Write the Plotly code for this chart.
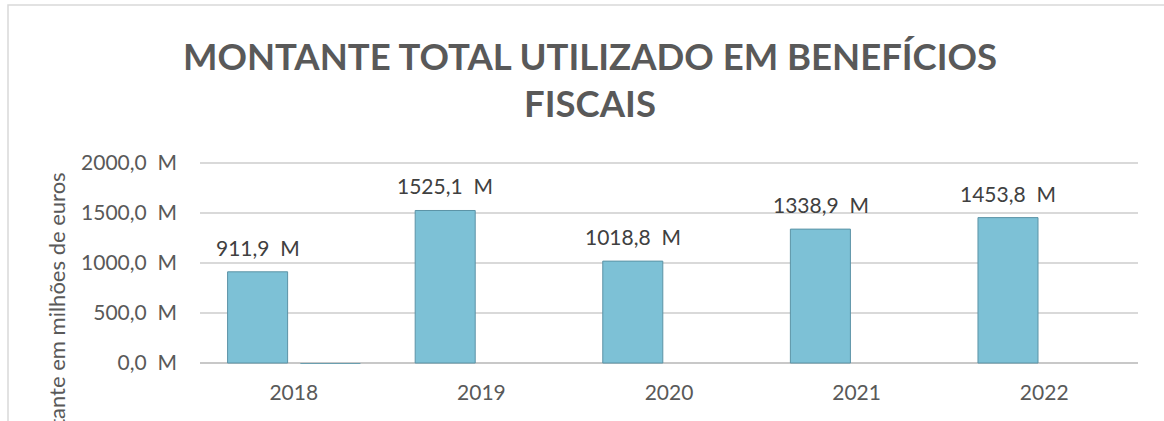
import plotly.graph_objects as go

# ---- data ----
years = ["2018", "2019", "2020", "2021", "2022"]
montante = [911.9, 1525.1, 1018.8, 1338.9, 1453.8]
serie2 = [-10, 0, 0, 0, 0]
value_labels = ["911,9\u00a0 M", "1525,1\u00a0 M", "1018,8\u00a0 M", "1338,9\u00a0 M", "1453,8\u00a0 M"]
y_tickvals = [0, 500, 1000, 1500, 2000]
y_ticktext = ["0,0\u00a0 M", "500,0\u00a0 M", "1000,0\u00a0 M", "1500,0\u00a0 M", "2000,0\u00a0 M"]

W, H = 1164, 421
L, R, T, B = 200, 26, 158, 57
pw, ph = W - L - R, H - T - B

FONT = "Lato"

fig = go.Figure()
fig.add_trace(go.Bar(
    x=years, y=montante, width=0.32, offset=-0.353,
    marker=dict(color="#7DC1D6", line=dict(color="#5C93A6", width=1)),
    hoverinfo="skip", showlegend=False,
))
fig.add_trace(go.Bar(
    x=years, y=serie2, width=0.32, offset=0.035,
    marker=dict(color="#6A9FB0", line=dict(width=0)),
    hoverinfo="skip", showlegend=False,
))

# data labels (category index positions on the category axis)
for i, (v, lab) in enumerate(zip(montante, value_labels)):
    fig.add_annotation(x=i, y=v, xref="x", yref="y", text=lab, showarrow=False,
                       yanchor="bottom", xanchor="center", xshift=-36, yshift=10,
                       font=dict(family=FONT, size=21, color="#404040"))

# y-axis title (clipped at bottom as in original)
fig.add_annotation(x=(56 - L) / pw, y=(H - B - 172 + 1) / ph, xref="paper", yref="paper",
                   text="Montante em milhões de euros", textangle=-90, showarrow=False,
                   xanchor="center", yanchor="top",
                   font=dict(family=FONT, size=22, color="#595959"))

# chart area border
fig.add_shape(type="rect", xref="paper", yref="paper",
              x0=(8 - L) / pw, x1=(1175 - L) / pw,
              y0=(H - B - 440) / ph, y1=(H - B - 5) / ph,
              line=dict(color="#D9D9D9", width=1.5), fillcolor="rgba(0,0,0,0)", layer="below")

fig.update_layout(
    width=W, height=H,
    margin=dict(l=L, r=R, t=T, b=B, pad=0),
    paper_bgcolor="white", plot_bgcolor="white",
    barmode="overlay",
    title=dict(text="MONTANTE TOTAL UTILIZADO EM BENEFÍCIOS<br>FISCAIS",
               x=590 / W, xanchor="center", xref="container",
               y=1 - 70 / H, yanchor="middle", yref="container",
               font=dict(family=FONT, size=36.5, color="#595959", weight="bold")),
    xaxis=dict(type="category", range=[-0.5, 4.5], showgrid=False, showline=False, ticks="",
               ticklabelstandoff=14,
               tickfont=dict(family=FONT, size=21, color="#595959")),
    yaxis=dict(range=[-10, 2050], tickvals=y_tickvals, ticktext=y_ticktext,
               showgrid=True, gridcolor="#D9D9D9", gridwidth=1.5,
               zeroline=True, zerolinecolor="#C8C8C8", zerolinewidth=2,
               showline=False, ticks="", ticklabelstandoff=22,
               tickfont=dict(family=FONT, size=21, color="#595959")),
)

fig.write_html("out.html", config={"displayModeBar": False},
               post_script="document.body.style.margin='0';document.body.style.overflow='hidden';")
